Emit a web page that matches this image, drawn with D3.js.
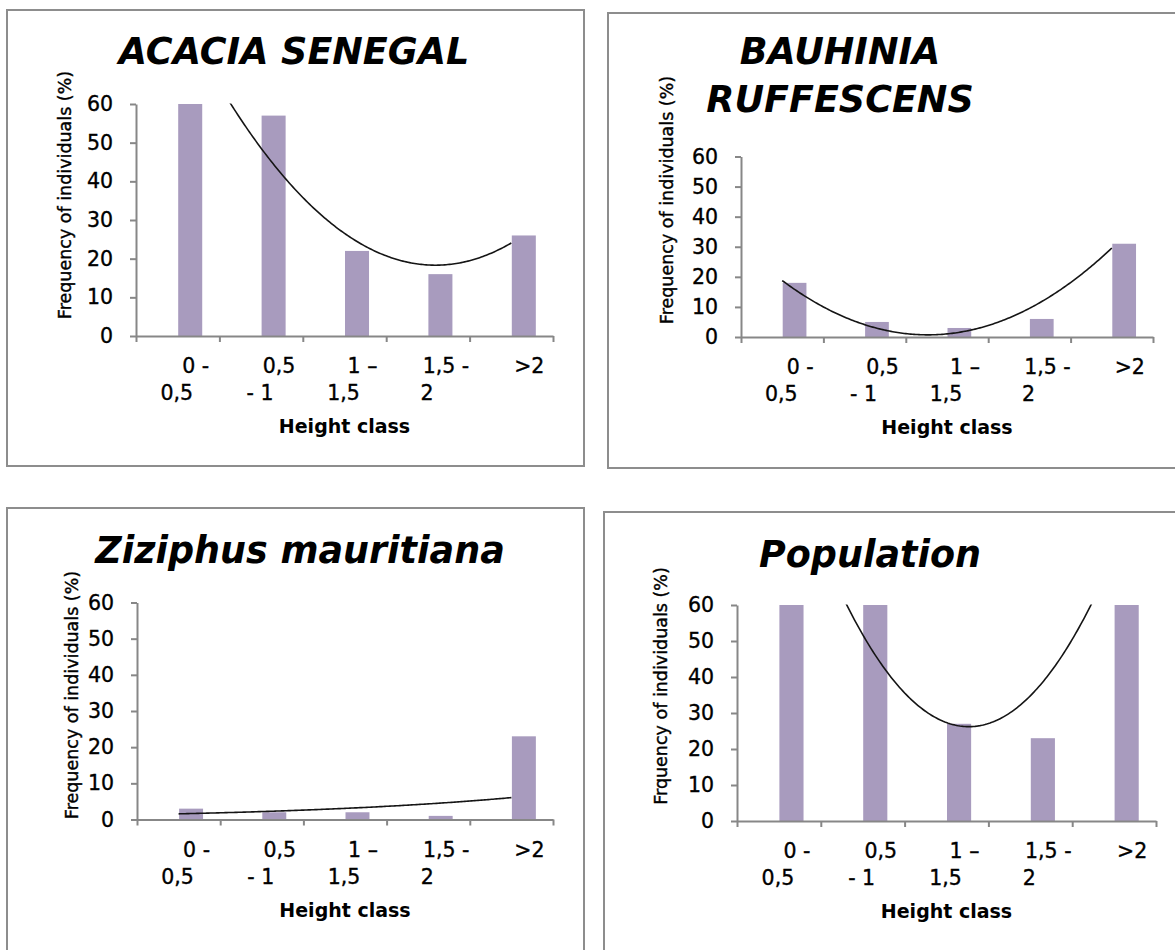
<!DOCTYPE html>
<html>
<head>
<meta charset="utf-8">
<script src="https://cdn.jsdelivr.net/npm/d3@7"></script>
<style>
  html, body { margin: 0; padding: 0; background: #ffffff; }
  svg { display: block; }
</style>
</head>
<body>
<svg id="chart" width="1175" height="950"></svg>
<script>
// Height classes (m) shared by every panel
const heightClasses = ["0 - 0,5", "0,5 - 1", "1 – 1,5", "1,5 - 2", ">2"];
// Category labels as they wrap under the axis
const heightClassLines = [["0 -", "0,5"], ["0,5", "- 1"], ["1 –", "1,5"], ["1,5 -", "2"], [">2"]];
const yTickValues = [0, 10, 20, 30, 40, 50, 60];

// Frequency of individuals (%) per height class
const acaciaSenegal = [81, 57, 22, 16, 26];
const bauhiniaRuffescens = [18, 5, 3, 6, 31];
const ziziphusMauritiana = [3, 2, 2, 1, 23];
const population = [102, 64, 27, 23, 80];

const panelTitles = [["ACACIA SENEGAL"], ["BAUHINIA", "RUFFESCENS"], ["Ziziphus mauritiana"], ["Population"]];
const yAxisTitles = [
  "Frequency of individuals (%)",
  "Frequency of individuals (%)",
  "Frequency of individuals (%)",
  "Frquency of individuals (%)"
];
const xAxisTitle = "Height class";
const trendTypes = ["polynomial", "polynomial", "exponential", "polynomial"];
const seriesValues = [acaciaSenegal, bauhiniaRuffescens, ziziphusMauritiana, population];

// Panel geometry
const layouts = [
  { frame: [7, 10, 584, 466],   plot: { left: 136, right: 553,  top: 104,   bottom: 336 },   titleX: 294, titleY: 64,  yTitleX: 71,  yTitleY: 195 },
  { frame: [608, 13, 1190, 468], plot: { left: 741, right: 1153, top: 156.5, bottom: 337 },   titleX: 840, titleY: 64,  yTitleX: 673, yTitleY: 200 },
  { frame: [7, 508, 584, 960],  plot: { left: 137, right: 553,  top: 602.5, bottom: 819.5 }, titleX: 300, titleY: 563, yTitleX: 78,  yTitleY: 695 },
  { frame: [604, 512, 1190, 960], plot: { left: 737, right: 1156, top: 605,   bottom: 821 },   titleX: 870, titleY: 567, yTitleX: 667, yTitleY: 686 }
];

const FONT = "'DejaVu Sans', Verdana, sans-serif";
const AXIS_COLOR = "#878787";
const BAR_COLOR = "#a89bbe";
const TICK_FONT_SIZE = 20.5;

// Least-squares trend lines over x = 1..n
function fitPolynomial2(ys) {
  const xs = ys.map((_, i) => i + 1);
  const S = k => d3.sum(xs, x => Math.pow(x, k));
  const T = k => d3.sum(xs, (x, i) => Math.pow(x, k) * ys[i]);
  const A = [[S(0), S(1), S(2), T(0)], [S(1), S(2), S(3), T(1)], [S(2), S(3), S(4), T(2)]];
  for (let c = 0; c < 3; c++) {
    for (let r = c + 1; r < 3; r++) {
      const f = A[r][c] / A[c][c];
      for (let k = c; k < 4; k++) A[r][k] -= f * A[c][k];
    }
  }
  const coef = [0, 0, 0];
  for (let r = 2; r >= 0; r--) {
    let s = A[r][3];
    for (let k = r + 1; k < 3; k++) s -= A[r][k] * coef[k];
    coef[r] = s / A[r][r];
  }
  return x => coef[0] + coef[1] * x + coef[2] * x * x;
}

function fitExponential(ys) {
  const xs = ys.map((_, i) => i + 1);
  const ls = ys.map(Math.log);
  const mx = d3.mean(xs), ml = d3.mean(ls);
  const b = d3.sum(xs, (x, i) => (x - mx) * (ls[i] - ml)) / d3.sum(xs, x => (x - mx) * (x - mx));
  const a = Math.exp(ml - b * mx);
  return x => a * Math.exp(b * x);
}

const svg = d3.select("#chart");
svg.append("rect").attr("width", 1175).attr("height", 950).attr("fill", "#ffffff");

layouts.forEach((L, i) => {
  const values = seriesValues[i];
  const P = L.plot;
  const g = svg.append("g");

  // panel frame
  g.append("rect")
    .attr("x", L.frame[0]).attr("y", L.frame[1])
    .attr("width", L.frame[2] - L.frame[0]).attr("height", L.frame[3] - L.frame[1])
    .attr("fill", "none").attr("stroke", "#8d8d8d").attr("stroke-width", 2);

  const xBand = d3.scaleBand().domain(heightClasses).range([P.left, P.right]).padding(0);
  const bw = xBand.bandwidth();
  const xEdge = d3.scaleLinear().domain([0, heightClasses.length]).range([P.left, P.right]);
  const y = d3.scaleLinear().domain([0, 60]).range([P.bottom, P.top]);
  const yBar = y.copy().clamp(true);
  const xTrend = d3.scaleLinear()
    .domain([1, heightClasses.length])
    .range([xBand(heightClasses[0]) + bw / 2, xBand(heightClasses[heightClasses.length - 1]) + bw / 2]);

  const clipId = "plot-clip-" + i;
  svg.append("clipPath").attr("id", clipId)
    .append("rect")
    .attr("x", P.left).attr("y", P.top - 0.5)
    .attr("width", P.right - P.left).attr("height", P.bottom - P.top + 0.5);

  // bars
  g.append("g").selectAll("rect")
    .data(values)
    .join("rect")
    .attr("x", (d, k) => xBand(heightClasses[k]) + bw / 2 + 0.5)
    .attr("width", bw * 0.288)
    .attr("y", d => yBar(d))
    .attr("height", d => yBar(0) - yBar(d))
    .attr("fill", BAR_COLOR);

  // trend line
  const f = trendTypes[i] === "exponential" ? fitExponential(values) : fitPolynomial2(values);
  const samples = d3.range(1, heightClasses.length + 0.0001, 0.02).map(x => [x, f(x)]);
  g.append("path")
    .datum(samples)
    .attr("clip-path", `url(#${clipId})`)
    .attr("fill", "none")
    .attr("stroke", "#151515")
    .attr("stroke-width", 1.6)
    .attr("d", d3.line().x(d => xTrend(d[0])).y(d => y(d[1])));

  // y axis
  const ya = g.append("g")
    .attr("transform", `translate(${P.left},0)`)
    .call(d3.axisLeft(y).tickValues(yTickValues).tickSize(6).tickSizeOuter(0).tickPadding(17));
  ya.select(".domain").attr("stroke", AXIS_COLOR).attr("stroke-width", 2);
  ya.selectAll(".tick line").attr("stroke", AXIS_COLOR).attr("stroke-width", 2);
  ya.selectAll(".tick text")
    .attr("font-family", FONT).attr("font-size", TICK_FONT_SIZE).attr("fill", "#000")
    .attr("stroke", "#000").attr("stroke-width", 0.35);

  // x axis (ticks between categories)
  const xa = g.append("g")
    .attr("transform", `translate(0,${P.bottom})`)
    .call(d3.axisBottom(xEdge).tickValues(d3.range(0, heightClasses.length + 1)).tickSize(6).tickSizeOuter(0).tickFormat(""));
  xa.select(".domain").attr("stroke", AXIS_COLOR).attr("stroke-width", 2);
  xa.selectAll(".tick line").attr("stroke", AXIS_COLOR).attr("stroke-width", 2);

  // category labels
  const lab = g.append("g")
    .attr("font-family", FONT).attr("font-size", TICK_FONT_SIZE).attr("fill", "#000")
    .attr("stroke", "#000").attr("stroke-width", 0.35);
  heightClasses.forEach((c, k) => {
    const cx = xBand(c) + bw / 2;
    heightClassLines[k].forEach((line, j) => {
      lab.append("text")
        .attr("x", j === 0 ? cx + 18 : cx - 1)
        .attr("y", P.bottom + 37 + j * 27)
        .attr("text-anchor", "middle")
        .text(line);
    });
  });

  // axis titles
  g.append("text")
    .attr("x", (P.left + P.right) / 2)
    .attr("y", P.bottom + 97)
    .attr("text-anchor", "middle")
    .attr("font-family", FONT).attr("font-weight", "bold").attr("font-size", 19)
    .text(xAxisTitle);

  g.append("text")
    .attr("transform", `translate(${L.yTitleX},${L.yTitleY}) rotate(-90)`)
    .attr("text-anchor", "middle")
    .attr("font-family", FONT).attr("font-size", 17.5)
    .attr("fill", "#000").attr("stroke", "#000").attr("stroke-width", 0.4)
    .text(yAxisTitles[i]);

  // panel title
  panelTitles[i].forEach((line, j) => {
    g.append("text")
      .attr("x", L.titleX)
      .attr("y", L.titleY + j * 48)
      .attr("text-anchor", "middle")
      .attr("font-family", FONT).attr("font-weight", "bold").attr("font-style", "italic")
      .attr("font-size", 36.5)
      .text(line);
  });
});
</script>
</body>
</html>
